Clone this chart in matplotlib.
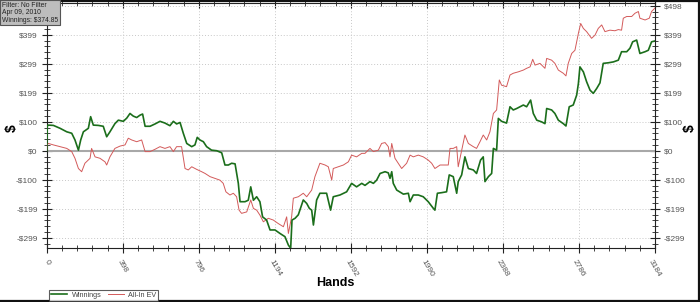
import matplotlib
matplotlib.use("Agg")
import matplotlib.pyplot as plt
from matplotlib.ticker import FixedLocator, FixedFormatter, AutoMinorLocator
from matplotlib.lines import Line2D

plt.rcParams['font.family'] = ['Liberation Sans', 'DejaVu Sans']

# ---- data ----
win_hands = [0, 3, 9, 35, 70, 105, 131, 148, 166, 178, 192, 218, 230, 244, 270, 296, 314, 331,
             357, 375, 401, 419, 436, 453, 471, 488, 502, 515, 541, 567, 593, 619, 645, 663,
             680, 698, 715, 733, 759, 776, 788, 802, 820, 837, 863, 890, 916, 933, 951, 968,
             986, 1003, 1012, 1038, 1055, 1068, 1082, 1099, 1116, 1130, 1151, 1169, 1195, 1221,
             1247, 1265, 1277, 1284, 1300, 1317, 1343, 1361, 1375, 1387, 1396, 1413, 1430, 1465,
             1486, 1500, 1535, 1570, 1596, 1622, 1649, 1666, 1692, 1710, 1727, 1745, 1771, 1788,
             1797, 1806, 1814, 1832, 1867, 1893, 1902, 1919, 1945, 1971, 1997, 2024, 2032, 2045,
             2067, 2093, 2107, 2128, 2146, 2154, 2172, 2189, 2207, 2233, 2250, 2271, 2285, 2294,
             2312, 2329, 2338, 2355, 2364, 2381, 2407, 2425, 2442, 2460, 2477, 2495, 2512, 2533,
             2547, 2565, 2591, 2608, 2617, 2643, 2660, 2678, 2704, 2718, 2735, 2756, 2774, 2783,
             2791, 2809, 2826, 2844, 2861, 2879, 2896, 2913, 2940, 2966, 2992, 3009, 3036, 3053,
             3067, 3088, 3105, 3132, 3149, 3166, 3184]
win_values = [0, 85, 88, 87, 77, 65, 60, 37, 2, 37, 65, 77, 117, 88, 87, 84, 48, 65,
              93, 105, 101, 112, 128, 119, 114, 122, 126, 84, 84, 92, 101, 95, 86, 101,
              92, 97, 60, 25, 14, 20, 46, 37, 31, 14, 2, 0, -7, -49, -49, -43,
              -45, -112, -175, -175, -170, -124, -170, -158, -175, -227, -238, -272, -272, -284,
              -295, -324, -335, -238, -232, -220, -169, -181, -198, -204, -255, -169, -146, -146,
              -204, -158, -152, -141, -112, -124, -112, -119, -106, -112, -101, -78, -72, -76,
              -95, -72, -112, -135, -149, -146, -175, -152, -152, -158, -175, -198, -204, -146,
              -144, -141, -83, -89, -146, -106, -83, -21, -61, -66, -78, -32, -21, -106,
              -89, -78, 8, 2, 111, 101, 95, 151, 140, 145, 151, 157, 151, 174,
              128, 105, 99, 93, 145, 140, 128, 105, 93, 85, 151, 157, 191, 231,
              288, 271, 237, 208, 197, 214, 233, 300, 302, 305, 311, 340, 340, 352,
              374, 380, 334, 340, 345, 374, 377]

ev_hands = [0, 3, 9, 35, 70, 105, 131, 148, 166, 183, 200, 227, 235, 253, 279, 305, 314, 331,
            357, 384, 410, 427, 445, 471, 497, 515, 541, 567, 593, 619, 645, 663, 680, 706,
            724, 741, 759, 785, 811, 829, 855, 881, 907, 924, 938, 959, 977, 994, 1007, 1020,
            1047, 1068, 1082, 1099, 1116, 1134, 1160, 1186, 1212, 1239, 1256, 1265, 1282, 1291,
            1317, 1343, 1361, 1387, 1404, 1430, 1457, 1474, 1492, 1500, 1526, 1553, 1579, 1596,
            1622, 1649, 1666, 1692, 1710, 1736, 1753, 1771, 1788, 1797, 1806, 1823, 1840, 1858,
            1884, 1902, 1919, 1945, 1971, 1997, 2015, 2032, 2059, 2085, 2102, 2111, 2128, 2146,
            2154, 2172, 2189, 2207, 2233, 2250, 2268, 2285, 2303, 2320, 2338, 2355, 2369, 2381,
            2407, 2425, 2442, 2469, 2495, 2512, 2530, 2544, 2556, 2582, 2608, 2617, 2643, 2660,
            2678, 2704, 2718, 2730, 2748, 2765, 2783, 2795, 2809, 2826, 2852, 2870, 2887, 2905,
            2922, 2948, 2974, 2992, 3009, 3018, 3036, 3062, 3079, 3097, 3105, 3132, 3154, 3166,
            3184]
ev_values = [0, 22, 25, 20, 14, 8, -3, -26, -61, -72, -43, -26, 8, -21, -26, -38, -49, -21,
             8, 16, 20, 43, 37, 31, 37, -3, -3, 5, 14, 8, 14, -3, 14, 14,
             -61, -66, -55, -64, -72, -78, -89, -95, -101, -112, -141, -152, -146, -158, -204, -215,
             -210, -169, -198, -204, -221, -244, -232, -238, -250, -261, -227, -284, -227, -163,
             -158, -146, -158, -135, -89, -43, -49, -55, -101, -61, -55, -49, -38, -15,
             -21, -9, -9, 8, -3, 2, 25, 28, 14, -21, 25, -26, -43, -61,
             -43, -15, -21, -15, -21, -32, -43, -61, -49, -49, -49, 8, 8, 14,
             -55, 2, 54, 25, 14, 8, 31, 54, 37, 65, 128, 140, 243, 225,
             220, 260, 266, 271, 277, 283, 288, 314, 294, 300, 283, 317, 311, 300,
             277, 266, 257, 300, 334, 345, 403, 437, 420, 409, 386, 397, 420, 432,
             409, 414, 412, 416, 414, 455, 461, 461, 472, 478, 455, 449, 455, 478,
             490]

x_ticks = [0, 398, 796, 1194, 1592, 1990, 2388, 2786, 3184]
x_labels = ['0', '398', '796', '1194', '1592', '1990', '2388', '2786', '3184']
y_ticks = [-298.8, -199.2, -99.6, 0, 99.6, 199.2, 298.8, 398.4, 498.0]
y_labels = ['-$299', '-$199', '-$100', '$0', '$100', '$199', '$299', '$399', '$498']

series_names = ['Winnings', 'All-In EV']
info_lines = ['Filter: No Filter', 'Apr 09, 2010', 'Winnings: $374.85']

# ---- figure ----
W, H = 700, 302
fig = plt.figure(figsize=(W / 100, H / 100), dpi=100)
fig.patch.set_facecolor('white')
ax = fig.add_axes([46.7 / W, (H - 248.3) / H, (655 - 46.7) / W, (248.3 - 2.5) / H])

ax.set_xlim(0, 3184)
ax.set_ylim(-335, 509)

grid_kw = dict(color='#c8c8c8', lw=0.7, ls=(0, (1, 2)))
ax.grid(True, which='major', **grid_kw)
ax.set_axisbelow(True)
ax.axhline(0, color='#a8a8a8', lw=1.5, zorder=1.5)

green = '#1b6e1b'
red = '#d35a5a'
ax.plot(ev_hands, ev_values, color=red, lw=0.7, zorder=3, label=series_names[1])
ax.plot(win_hands, win_values, color=green, lw=1.2, zorder=4, label=series_names[0])

ax.xaxis.set_major_locator(FixedLocator(x_ticks))
ax.xaxis.set_major_formatter(FixedFormatter(x_labels))
ax.xaxis.set_minor_locator(AutoMinorLocator(5))
ax.yaxis.set_major_locator(FixedLocator(y_ticks))
ax.yaxis.set_major_formatter(FixedFormatter(y_labels))
ax.yaxis.set_minor_locator(AutoMinorLocator(5))

ax.tick_params(axis='both', which='major', direction='inout', length=7, width=0.8,
               color='#222222', labelsize=6, labelcolor='#555555')
ax.tick_params(axis='both', which='minor', direction='inout', length=4, width=0.6, color='#222222')
ax.tick_params(axis='y', which='both', left=True, right=True, labelleft=True, labelright=True, pad=3)
ax.tick_params(axis='x', which='both', bottom=True, top=True, labelbottom=True, labeltop=False)
for lab in ax.get_xticklabels():
    lab.set_rotation(-60)
    lab.set_ha('center')
    lab.set_va('top')

# the top-left label is hidden behind the info box in the reference
ax.yaxis.get_major_ticks()[-1].label1.set_visible(False)

for s in ['left', 'right', 'bottom', 'top']:
    ax.spines[s].set_color('#222222')
    ax.spines[s].set_linewidth(0.8)

fig.text(335 / W, 1 - 283 / H, 'Hands', ha='center', va='center', fontsize=9, fontweight='bold')
fig.text(12 / W, 1 - 128 / H, '$', ha='center', va='center', fontsize=10, fontweight='bold', rotation=90)
fig.text(690 / W, 1 - 128 / H, '$', ha='center', va='center', fontsize=10, fontweight='bold', rotation=90)

# info box
fig.text(2 / W, 1 - 2 / H, '\n'.join(info_lines), ha='left', va='top', fontsize=4.9,
         color='#222222', linespacing=1.05,
         bbox=dict(boxstyle='square,pad=0.25', fc='#bdbdbd', ec='#555555', lw=0.8))

# legend
handles = [Line2D([], [], color=green, lw=1.2), Line2D([], [], color=red, lw=0.7)]
leg = fig.legend(handles, series_names, loc='lower left', bbox_to_anchor=(48 / W, 0.0),
                 ncol=2, fontsize=5.2, frameon=True, fancybox=False, edgecolor='#333333',
                 handlelength=2.2, columnspacing=0.9, handletextpad=0.6, borderpad=0.25,
                 borderaxespad=0.2)
leg.get_frame().set_linewidth(0.8)
for t in leg.get_texts():
    t.set_color('#444444')

# figure border (top, right, bottom)
for xs, ys in [([0, 1], [0.997, 0.997]), ([0.998, 0.998], [0, 1]), ([0, 1], [0.004, 0.004])]:
    fig.add_artist(Line2D(xs, ys, transform=fig.transFigure, color='#111111', lw=1.6))

fig.savefig('out.png', dpi=100)
